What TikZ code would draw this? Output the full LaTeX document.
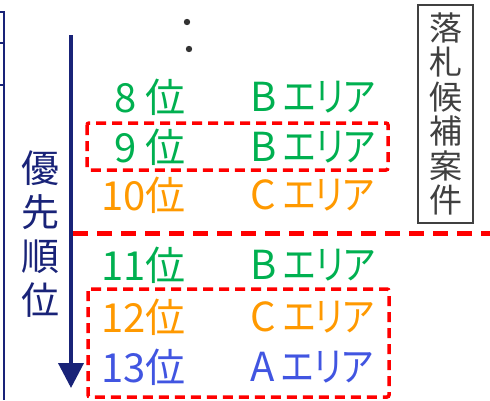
\documentclass[tikz,border=0pt]{standalone}
\usepackage{fontspec}
\setmainfont{Noto Sans CJK JP}
\newfontfamily\kanafont[RawFeature=+palt,FakeStretch=0.85]{Noto Sans CJK JP}
\usepackage{tikz}
\usetikzlibrary{positioning,arrows.meta}

\definecolor{rkgreen}{RGB}{0,176,80}
\definecolor{rkorange}{RGB}{255,153,0}
\definecolor{rkblue}{RGB}{65,85,225}
\definecolor{rknavy}{RGB}{25,35,120}
\definecolor{rkred}{RGB}{255,0,0}
\definecolor{rkgrey}{RGB}{64,64,64}

\newcommand{\areaname}[1]{#1\hspace{7pt}{\kanafont エリア}}

\tikzset{
  rank/.style={anchor=east,inner sep=0pt,font=\fontsize{40}{40}\selectfont},
  area/.style={anchor=west,inner sep=0pt,font=\fontsize{40}{40}\selectfont},
  pickbox/.style={draw=rkred,line width=3.5pt,rounded corners=2pt,dash pattern=on 10pt off 6pt},
}

\begin{document}
\begin{tikzpicture}[x=1pt,y=-1pt]
\useasboundingbox (0,0) rectangle (490,400);
% bracket cut at the left border
\draw[rknavy,line width=2.5pt] (0,12) -- (4,12) -- (4,400);
\draw[rknavy,line width=2pt] (0,43) -- (4,43) (0,85) -- (4,85);
% priority axis
\coordinate (top) at (71,35);
\coordinate (bottom) at (71,388);
\draw[rknavy,line width=4pt,-{Triangle[length=25pt,width=25pt]}] (top) -- (bottom);
\node[rknavy,align=center,inner sep=0pt,font=\fontsize{38}{44}\selectfont] (prio) at (40,234) {優\\先\\順\\位};
% omitted ranks
\fill[rkgrey!80!black] (187,22) circle (3.2pt) (189,49) circle (3.2pt);
% ranking rows
\node[rank,rkgreen]  (r8)  at (186,97)  {8 位};
\node[area,rkgreen]  (a8)  at (250,97)  {\areaname{B}};
\node[rank,rkgreen]  (r9)  at (186,147) {9 位};
\node[area,rkgreen]  (a9)  at (250,147) {\areaname{B}};
\node[rank,rkorange] (r10) at (186,195) {10位};
\node[area,rkorange] (a10) at (250,195) {\areaname{C}};
\node[rank,rkgreen]  (r11) at (186,265) {11位};
\node[area,rkgreen]  (a11) at (250,265) {\areaname{B}};
\node[rank,rkorange] (r12) at (186,317) {12位};
\node[area,rkorange] (a12) at (250,317) {\areaname{C}};
\node[rank,rkblue]   (r13) at (186,367) {13位};
\node[area,rkblue]   (a13) at (250,367) {\areaname{A}};
% candidate label
\node[draw=rkgrey,line width=1.8pt,text=rkgrey,align=center,minimum width=55pt,minimum height=218pt,inner sep=0pt,
      font=\fontsize{33}{34.5}\selectfont] (cand) at (445.5,114) {落\\札\\候\\補\\案\\件};
% cut-off line and picked rows
\draw[rkred,line width=5pt,dash pattern=on 15pt off 9pt] (73,233) -- (490,233);
\draw[pickbox] (87,123) rectangle (388,170);
\draw[pickbox] (88,289) rectangle (389,397);
\end{tikzpicture}
\end{document}
